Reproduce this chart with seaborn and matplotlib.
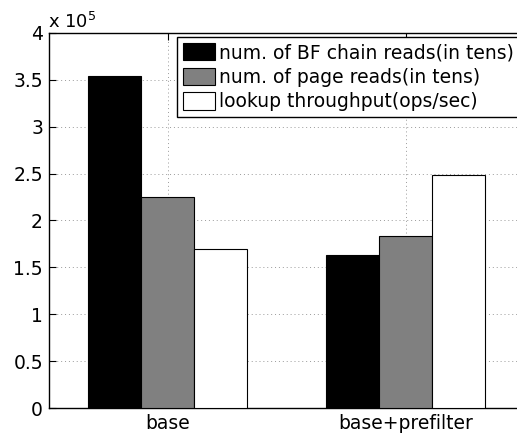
import matplotlib
matplotlib.use("Agg")
import matplotlib.pyplot as plt
from matplotlib.ticker import MultipleLocator, FuncFormatter
import seaborn as sns
import pandas as pd

categories = ["base", "base+prefilter"]
series_names = ["num. of BF chain reads(in tens)",
                "num. of page reads(in tens)",
                "lookup throughput(ops/sec)"]
bf_chain_reads = [354000, 163500]
page_reads = [225000, 184000]
lookup_throughput = [170000, 248000]
colors = ["#000000", "#808080", "#ffffff"]

rows = []
for name, vals in zip(series_names, [bf_chain_reads, page_reads, lookup_throughput]):
    for c, v in zip(categories, vals):
        rows.append({"category": c, "series": name, "value": v})
df = pd.DataFrame(rows)

sns.set_style("white")
plt.rcParams["font.family"] = ["DejaVu Sans"]
plt.rcParams["text.color"] = "black"
plt.rcParams["axes.labelcolor"] = "black"

fig = plt.figure(figsize=(5.17, 4.37), dpi=100)
ax = fig.add_axes([48.5 / 517, 29 / 437, 476 / 517, 375 / 437])

sns.barplot(data=df, x="category", y="value", hue="series", order=categories,
            hue_order=series_names, palette=colors, width=0.67,
            edgecolor="black", linewidth=0.8, saturation=1, ax=ax, zorder=3)

ax.set_xlim(-0.5, 1.5)
ax.set_ylim(0, 400000)
ax.yaxis.set_major_locator(MultipleLocator(50000))
ax.yaxis.set_major_formatter(FuncFormatter(lambda v, p: f"{v / 1e5:g}"))
ax.set_xlabel("")
ax.set_ylabel("")
ax.grid(True, which="major", axis="both", linestyle=(0, (1, 3)),
        color="#999999", linewidth=0.7, zorder=0)
ax.set_axisbelow(True)
ax.tick_params(direction="in", length=5, width=0.8, colors="black",
               labelsize=13.5, top=True, right=True, bottom=True, left=True, pad=4)
for s in ax.spines.values():
    s.set_color("black")
    s.set_linewidth(1.0)
    s.set_visible(True)

ax.text(0.0, 1.004, r"x 10$^{5}$", transform=ax.transAxes, ha="left",
        va="bottom", fontsize=13, color="black")

handles, labels = ax.get_legend_handles_labels()
if ax.get_legend() is not None:
    ax.get_legend().remove()
leg = fig.legend(handles, labels, loc="upper left",
                 bbox_to_anchor=(177.3 / 517, 1 - 37.3 / 437),
                 bbox_transform=fig.transFigure, borderaxespad=0,
                 fontsize=13.5, frameon=True, fancybox=False, framealpha=1,
                 edgecolor="black", handlelength=1.7, handleheight=1.05,
                 handletextpad=0.2, labelspacing=0.3, borderpad=0.3,
                 labelcolor="black")
leg.get_frame().set_linewidth(1.0)

fig.savefig("out.png", dpi=100)
